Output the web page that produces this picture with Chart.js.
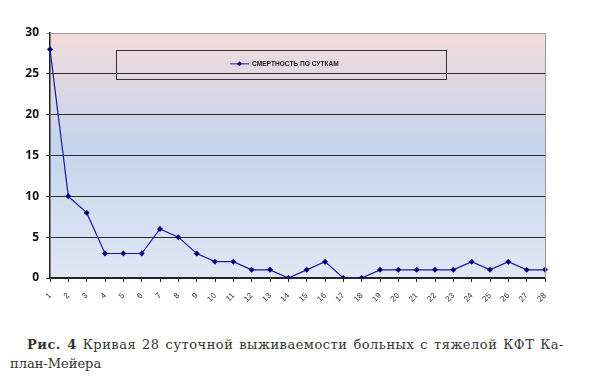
<!DOCTYPE html>
<html>
<head>
<meta charset="utf-8">
<script src="https://cdn.jsdelivr.net/npm/chart.js@4"></script>
<style>
  html, body { margin: 0; padding: 0; background: #fff; }
  #wrap { position: absolute; left: 0; top: 0; width: 591px; height: 320px; }
  .cap {
    position: absolute; font-family: "DejaVu Serif", serif; font-size: 13px;
    line-height: 19px; color: #333; white-space: nowrap;
  }
  #l1 { left: 27px; top: 335px; width: 537px; letter-spacing: 0.5px; text-align: justify; text-align-last: justify; white-space: normal; }
  #l2 { left: 10px; top: 354px; }
</style>
</head>
<body>
<div id="wrap"><canvas id="c"></canvas></div>
<div class="cap" id="l1"><b>Рис. 4</b> Кривая 28 суточной выживаемости больных с тяжелой КФТ Ка-</div>
<div class="cap" id="l2">план-Мейера</div>
<script>
const categories = ["1","2","3","4","5","6","7","8","9","10","11","12","13","14","15","16","17","18","19","20","21","22","23","24","25","26","27","28"];
const seriesLabel = "СМЕРТНОСТЬ ПО СУТКАМ";
const deaths = [28,10,8,3,3,3,6,5,3,2,2,1,1,0,1,2,0,0,1,1,1,1,1,2,1,2,1,1];
const yTicks = [0,5,10,15,20,25,30];

const bgPlugin = {
  id: 'bg',
  beforeDraw(chart) {
    const {ctx, chartArea: a} = chart;
    const g = ctx.createLinearGradient(0, a.top, 0, a.bottom);
    g.addColorStop(0, '#f2dcdc');
    g.addColorStop(0.45, '#c6d4ec');
    g.addColorStop(1, '#e0e7f4');
    ctx.save();
    ctx.fillStyle = g;
    ctx.fillRect(a.left, a.top, a.right - a.left, a.bottom - a.top);
    ctx.restore();
  }
};

const legendPlugin = {
  id: 'boxLegend',
  afterDraw(chart) {
    const {ctx} = chart;
    const x = chart.scales.x, y = chart.scales.y;
    const left = x.getPixelForValue(3.6), right = x.getPixelForValue(21.6);
    const top = y.getPixelForValue(27.9), bottom = y.getPixelForValue(24.3);
    ctx.save();
    ctx.strokeStyle = '#333';
    ctx.lineWidth = 1;
    ctx.strokeRect(Math.round(left) + 0.5, Math.round(top) + 0.5, Math.round(right - left), Math.round(bottom - top));
    const cy = (top + bottom) / 2 - 1;
    ctx.strokeStyle = '#1a1aa0';
    ctx.beginPath();
    ctx.moveTo(230, cy); ctx.lineTo(249, cy); ctx.stroke();
    ctx.fillStyle = '#00007a';
    ctx.beginPath();
    ctx.moveTo(239.5, cy - 2.5); ctx.lineTo(242, cy); ctx.lineTo(239.5, cy + 2.5); ctx.lineTo(237, cy);
    ctx.closePath(); ctx.fill();
    ctx.fillStyle = '#222';
    ctx.font = 'bold 6.6px "Liberation Sans", sans-serif';
    ctx.textBaseline = 'middle';
    ctx.fillText(chart.data.datasets[0].label, 252, cy);
    ctx.restore();
  }
};

new Chart(document.getElementById('c'), {
  type: 'line',
  data: {
    labels: categories,
    datasets: [{
      label: seriesLabel,
      data: deaths,
      borderColor: '#1a1aa0',
      backgroundColor: '#00007a',
      borderWidth: 1.2,
      pointStyle: 'rectRot',
      pointRadius: 3,
      pointBorderWidth: 0,
      tension: 0
    }]
  },
  options: {
    responsive: true,
    maintainAspectRatio: false,
    animation: false,
    layout: { padding: { top: 33, right: 46, left: 0, bottom: 0 } },
    plugins: { legend: { display: false }, tooltip: { enabled: false } },
    scales: {
      x: {
        offset: false,
        afterFit(s) { s.height = 42; },
        border: { color: '#222', width: 1.5 },
        grid: { drawOnChartArea: false, drawTicks: true, tickLength: 4, color: '#222' },
        ticks: { minRotation: 45, maxRotation: 45, autoSkip: false, color: '#333', padding: 9,
                 font: { size: 8, family: '"Liberation Sans", sans-serif' } }
      },
      y: {
        min: 0, max: 30,
        afterFit(s) { s.width = 50; },
        afterBuildTicks(s) { s.ticks = yTicks.map(v => ({ value: v })); },
        border: { color: '#222', width: 1.5 },
        grid: {
          tickLength: 4,
          color(ctx) { return ctx.tick && ctx.tick.value === 30 ? '#9a9a9a' : '#2a2a2a'; },
          lineWidth: 1
        },
        ticks: { color: '#111', padding: 7,
                 font: { size: 12, weight: 'bold', family: '"Open Sans", "Liberation Sans", sans-serif' } }
      }
    }
  },
  plugins: [bgPlugin, legendPlugin, {
    id: 'rightBorder',
    afterDatasetsDraw(chart) {
      const {ctx, chartArea: a} = chart;
      ctx.save(); ctx.strokeStyle = '#999'; ctx.lineWidth = 1;
      ctx.beginPath(); ctx.moveTo(a.right + 0.5, a.top); ctx.lineTo(a.right + 0.5, a.bottom); ctx.stroke();
      ctx.restore();
    }
  }]
});
</script>
</body>
</html>
